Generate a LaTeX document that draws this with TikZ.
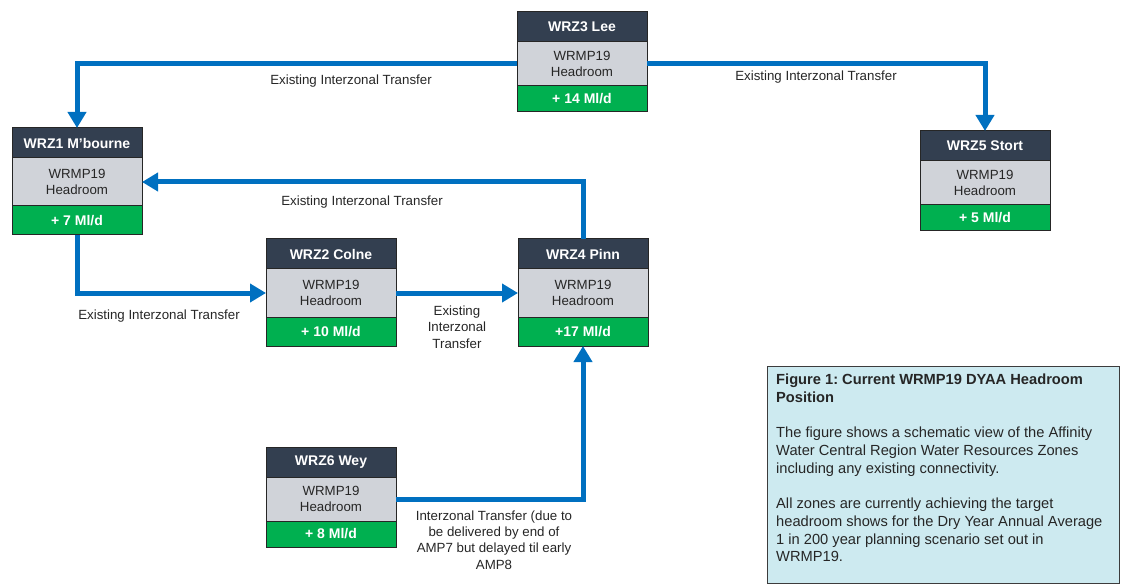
\documentclass[tikz,border=0pt]{standalone}
\usepackage{fontspec}
\setmainfont{Liberation Sans}
\frenchspacing
\usetikzlibrary{positioning, arrows.meta}
\definecolor{zonenavy}{RGB}{51,63,80}
\definecolor{zonegrey}{RGB}{208,211,217}
\definecolor{zonegreen}{RGB}{0,176,80}
\definecolor{pipeblue}{RGB}{0,112,192}
\definecolor{notecyan}{RGB}{205,234,240}
\definecolor{edgegrey}{RGB}{38,38,38}
\tikzset{
	zhead/.style={draw=edgegrey, line width=1pt, rectangle, inner sep=0pt, outer sep=0pt, minimum width=130pt, minimum height=30pt, fill=zonenavy, text=white, font=\fontsize{14}{16}\selectfont\bfseries},
	zbody/.style={draw=edgegrey, line width=1pt, rectangle, inner sep=0pt, outer sep=0pt, minimum width=130pt, minimum height=44pt, fill=zonegrey, text=black!85, align=center, font=\fontsize{13.3}{15.5}\selectfont},
	zval/.style={draw=edgegrey, line width=1pt, rectangle, inner sep=0pt, outer sep=0pt, minimum width=130pt, minimum height=26pt, fill=zonegreen, text=white, font=\fontsize{14}{16}\selectfont\bfseries},
	% taller zones in the middle row
	tallbody/.style={minimum height=48pt},
	tallval/.style={minimum height=29pt},
	flowlabel/.style={align=center, text=black!85, inner sep=0pt, font=\fontsize{13.3}{16.3}\selectfont},
	pipe/.style={draw=pipeblue, line width=5pt, -{Triangle[width=18pt,length=16pt]}},
}

\begin{document}
\begin{tikzpicture}[x=1pt, y=-1pt]
	\useasboundingbox (0,0) rectangle (1121,585);
	
	% zones
	\node (lee) [zhead] at (582,27) {WRZ3 Lee};
	\node (leeb) [zbody, below=0pt of lee] {WRMP19\\Headroom};
	\node (leev) [zval, below=0pt of leeb] {+ 14 Ml/d};
	
	\node (mb) [zhead] at (77,143) {WRZ1 M’bourne};
	\node (mbb) [zbody, tallbody, below=0pt of mb] {WRMP19\\Headroom};
	\node (mbv) [zval, tallval, below=0pt of mbb] {+ 7 Ml/d};
	
	\node (stort) [zhead] at (985,146) {WRZ5 Stort};
	\node (stortb) [zbody, below=0pt of stort] {WRMP19\\Headroom};
	\node (stortv) [zval, below=0pt of stortb] {+ 5 Ml/d};
	
	\node (colne) [zhead] at (331,254) {WRZ2 Colne};
	\node (colneb) [zbody, tallbody, below=0pt of colne] {WRMP19\\Headroom};
	\node (colnev) [zval, tallval, below=0pt of colneb] {+ 10 Ml/d};
	
	\node (pinn) [zhead] at (583,254) {WRZ4 Pinn};
	\node (pinnb) [zbody, tallbody, below=0pt of pinn] {WRMP19\\Headroom};
	\node (pinnv) [zval, tallval, below=0pt of pinnb] {+17 Ml/d};
	
	\node (wey) [zhead] at (331,462) {WRZ6 Wey};
	\node (weyb) [zbody, below=0pt of wey] {WRMP19\\Headroom};
	\node (weyv) [zval, below=0pt of weyb] {+ 8 Ml/d};
	
	% transfers
	\begin{scope}[pipe]
		\draw (leeb.west) -| (mb.north);
		\draw (leeb.east) -| (stort.north);
		\draw (pinn.north) |- (mbb.east);
		\draw (mbv.south) |- (colneb.west);
		\draw (colneb.east) -- (pinnb.west);
		\draw (weyb.east) -| (pinnv.south);
	\end{scope}
	
	\node (t31) [flowlabel] at (351,81) {Existing Interzonal Transfer};
	\node (t35) [flowlabel] at (816,77) {Existing Interzonal Transfer};
	\node (t41) [flowlabel] at (362,202) {Existing Interzonal Transfer};
	\node (t12) [flowlabel] at (159,316) {Existing Interzonal Transfer};
	\node (t24) [flowlabel] at (457,327) {Existing\\Interzonal\\Transfer};
	\node (t64) [flowlabel] at (494,540) {Interzonal Transfer (due to\\be delivered by end of\\AMP7 but delayed til early\\AMP8};
	
	% caption box
	\node (note) [draw=edgegrey!90, line width=1pt, fill=notecyan, minimum width=352pt, minimum height=217pt, anchor=north west, inner sep=0pt] at (767,366) {};
	\node (notetext) [anchor=north west, inner xsep=9pt, inner ysep=8pt, align=left, text=black!85, font=\fontsize{14.67}{17.7}\selectfont] at (note.north west) {\textbf{Figure 1: Current WRMP19 DYAA Headroom}\\\textbf{Position}\\[17.7pt]The figure shows a schematic view of the Affinity\\Water Central Region Water Resources Zones\\including any existing connectivity.\\[17.7pt]All zones are currently achieving the target\\headroom shows for the Dry Year Annual Average\\1 in 200 year planning scenario set out in\\WRMP19.};
\end{tikzpicture}
\end{document}
